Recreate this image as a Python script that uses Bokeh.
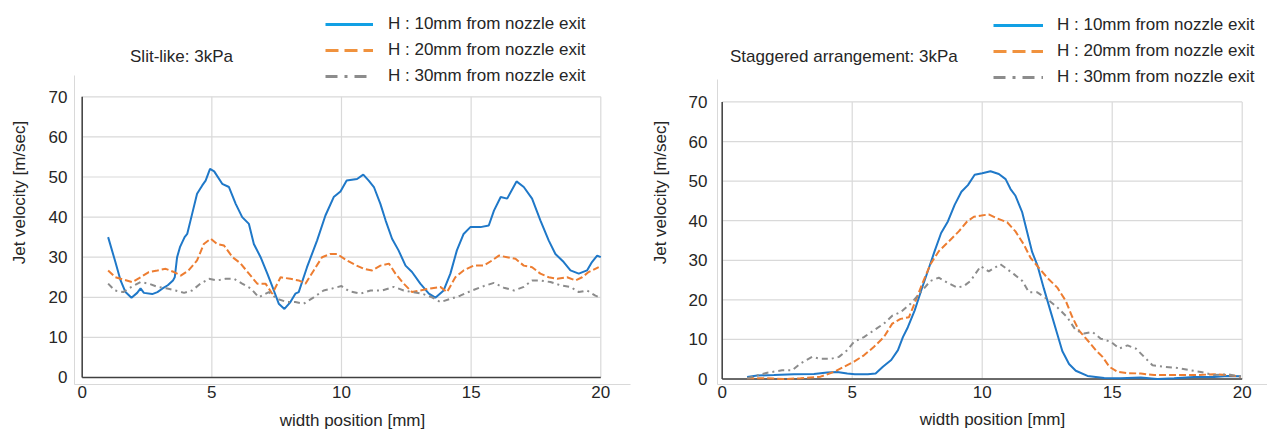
from bokeh.plotting import figure
from bokeh.models import Range1d, FixedTicker, Legend, LegendItem, Label
from bokeh.layouts import row
from bokeh.embed import file_html
from bokeh.resources import INLINE

# ---------------- data ----------------
x_ticks = [0, 5, 10, 15, 20]
y_ticks = [0, 10, 20, 30, 40, 50, 60, 70]
series_labels = ["H : 10mm from nozzle exit", "H : 20mm from nozzle exit", "H : 30mm from nozzle exit"]
titles = ["Slit-like: 3kPa", "Staggered arrangement: 3kPa"]
x_title = "width position [mm]"
y_title = "Jet velocity [m/sec]"

# Slit-like, H = 10 mm
slit_h10_x = [1.0, 1.28, 1.48, 1.67, 1.9, 2.12, 2.25, 2.38, 2.7, 2.9, 3.1, 3.3, 3.5, 3.57, 3.66, 3.77,
              3.95, 4.05, 4.24, 4.43, 4.63, 4.76, 4.93, 5.09, 5.4, 5.66, 5.92, 6.17, 6.43, 6.62, 6.88,
              7.14, 7.39, 7.58, 7.8, 8.03, 8.22, 8.35, 8.67, 9.06, 9.38, 9.7, 9.96, 10.2, 10.6, 10.84,
              11.05, 11.25, 11.5, 11.7, 11.95, 12.2, 12.47, 12.72, 13.04, 13.37, 13.62, 13.94, 14.2,
              14.45, 14.71, 14.97, 15.36, 15.68, 15.88, 16.14, 16.39, 16.75, 17.03, 17.35, 17.67,
              17.99, 18.25, 18.57, 18.83, 19.15, 19.47, 19.66, 19.86, 20.0]
slit_h10_v = [35.0, 28.8, 24.2, 21.3, 19.9, 21.1, 22.2, 21.1, 20.8, 21.3, 22.2, 23.0, 24.2, 25.0, 30.0, 32.5,
              35.0, 35.8, 40.8, 45.8, 47.9, 49.1, 52.0, 51.4, 48.3, 47.5, 43.3, 40.0, 38.3, 33.3, 30.0,
              25.9, 21.7, 18.4, 17.1, 18.8, 20.9, 21.3, 27.5, 34.2, 40.4, 45.0, 46.4, 49.1, 49.5, 50.6,
              49.1, 47.5, 43.3, 39.2, 34.6, 31.7, 27.9, 26.3, 23.4, 20.9, 19.9, 21.7, 25.9,
              31.7, 35.8, 37.5, 37.5, 37.9, 41.6, 45.0, 44.6, 48.9, 47.5, 44.6, 39.2,
              34.2, 30.8, 28.8, 26.7, 25.9, 26.7, 28.8, 30.4, 30.0]

# Slit-like, H = 20 mm
slit_h20_x = [1.0, 1.28, 1.6, 1.93, 2.25, 2.57, 2.9, 3.22, 3.54, 3.8, 4.1, 4.43, 4.69, 4.96, 5.2, 5.47,
              5.8, 6.1, 6.43, 6.75, 7.07, 7.33, 7.65, 8.03, 8.35, 8.61, 8.93, 9.25, 9.57, 9.83, 10.2,
              10.55, 10.86, 11.18, 11.5, 11.83, 12.08, 12.4, 12.72, 13.04, 13.43, 13.81, 14.07, 14.39,
              14.71, 15.1, 15.49, 15.81, 16.07, 16.39, 16.71, 17.03, 17.35, 17.67, 17.99, 18.32, 18.7,
              19.02, 19.28, 19.53, 19.92]
slit_h20_v = [26.7, 25.0, 24.4, 23.8, 25.0, 26.3, 26.7, 27.1, 26.3, 25.4, 26.7, 29.2, 33.3, 34.6, 33.3, 32.9,
              30.0, 28.5, 25.9, 23.4, 23.4, 20.9, 25.0, 24.6, 24.2, 23.4, 26.7, 30.0, 30.8, 30.8, 29.2,
              28.0, 27.1, 26.7, 27.9, 28.4, 25.9, 23.4, 21.3, 21.7, 22.2, 22.6, 21.3, 25.0,
              26.7, 27.9, 27.9, 29.2, 30.4, 30.0, 29.6, 27.9, 27.5, 25.9, 25.0, 24.6, 25.0,
              24.2, 25.0, 26.3, 27.5]

# Slit-like, H = 30 mm
slit_h30_x = [1.0, 1.26, 1.58, 1.9, 2.25, 2.57, 2.9, 3.28, 3.6, 3.93, 4.24, 4.56, 4.89, 5.2, 5.53, 5.85,
              6.17, 6.5, 6.81, 7.2, 7.52, 7.91, 8.22, 8.54, 8.93, 9.31, 9.64, 10.0, 10.3, 10.73, 11.12,
              11.57, 12.02, 12.4, 12.72, 13.11, 13.49, 13.81, 14.2, 14.58, 15.03, 15.49, 15.88, 16.26,
              16.65, 17.03, 17.35, 17.67, 18.06, 18.44, 18.83, 19.15, 19.47, 19.79, 19.95]
slit_h30_v = [23.4, 21.7, 21.3, 22.6, 23.8, 23.4, 22.6, 22.2, 21.7, 21.1, 21.7, 23.4, 24.6, 24.2, 24.6, 24.6,
              23.4, 22.2, 20.0, 21.3, 19.6, 18.8, 18.8, 18.4, 20.0, 21.7, 22.2, 22.8, 21.5, 20.9, 21.7,
              21.7, 22.6, 21.7, 21.3, 20.9, 20.0, 18.8, 19.6, 20.4, 21.7, 22.8, 23.6, 22.4,
              21.7, 22.6, 24.2, 24.2, 23.8, 23.0, 22.6, 21.3, 21.7, 20.4, 20.0]

# Staggered, H = 10 mm
stag_h10_x = [0.96, 1.35, 1.99, 2.76, 3.53, 4.04, 4.42, 4.81, 5.1, 5.6, 5.9, 6.18, 6.5, 6.76, 6.95, 7.14,
              7.4, 7.65, 7.91, 8.17, 8.42, 8.68, 8.94, 9.2, 9.45, 9.71, 10.0, 10.32, 10.64, 10.9, 11.09,
              11.28, 11.54, 11.73, 11.92, 12.12, 12.37, 12.63, 12.89, 13.08, 13.34, 13.6, 14.05, 14.69,
              15.33, 16.1, 16.74, 17.38, 18.15, 18.92, 19.44, 19.95]
stag_h10_v = [0.5, 0.9, 1.0, 1.2, 1.25, 1.65, 1.8, 1.4, 1.2, 1.2, 1.4, 3.1, 4.8, 7.3, 10.6, 13.1,
              17.3, 22.3, 27.3, 32.3, 36.9, 39.8, 44.0, 47.3, 49.0, 51.6, 52.0, 52.5, 51.8, 50.5, 48.0,
              46.3, 42.1, 37.1, 32.1, 28.8, 22.9, 17.1, 11.3, 7.1, 3.8, 2.1, 0.8, 0.25,
              0.2, 0.4, 0.0, 0.2, 0.5, 0.5, 0.8, 0.7]

# Staggered, H = 20 mm
stag_h20_x = [0.96, 1.73, 2.37, 3.01, 3.78, 4.3, 4.68, 5.07, 5.45, 5.83, 6.22, 6.54, 6.86, 7.18, 7.44,
              7.69, 8.01, 8.33, 8.72, 9.1, 9.42, 9.68, 9.97, 10.25, 10.57, 10.96, 11.28, 11.6, 11.86,
              12.18, 12.5, 12.89, 13.21, 13.47, 13.72, 14.05, 14.37, 14.63, 14.89, 15.21, 15.59, 16.1,
              16.61, 17.38, 18.15, 18.92, 19.44, 19.95]
stag_h20_v = [0.2, 0.2, 0.0, 0.2, 0.6, 1.8, 3.1, 4.4, 6.0, 8.1, 10.6, 14.0, 15.2, 15.6, 19.8,
              24.0, 29.0, 32.3, 34.8, 37.3, 39.8, 41.0, 41.3, 41.6, 40.6, 39.6, 37.3, 34.0, 30.6,
              28.1, 25.6, 23.1, 19.8, 15.6, 12.3, 9.8, 7.3, 5.6, 3.1, 1.8, 1.5, 1.4,
              1.0, 1.0, 1.0, 1.2, 1.0, 0.6]

# Staggered, H = 30 mm
stag_h30_x = [0.96, 1.73, 2.3, 2.69, 3.0, 3.46, 3.78, 4.17, 4.49, 4.81, 5.07, 5.45, 5.83, 6.22, 6.54,
              6.86, 7.24, 7.63, 8.01, 8.33, 8.65, 9.04, 9.3, 9.55, 9.94, 10.25, 10.7, 11.22, 11.54,
              11.8, 12.12, 12.5, 12.89, 13.27, 13.6, 13.92, 14.24, 14.56, 14.95, 15.27, 15.59, 15.91,
              16.23, 16.55, 17.0, 17.51, 18.02, 18.41, 18.92, 19.44, 19.95]
stag_h30_v = [0.2, 1.6, 2.2, 2.2, 3.9, 5.6, 5.1, 5.1, 5.6, 7.3, 9.4, 10.6, 12.3, 14.0, 16.0,
              16.9, 19.0, 21.9, 24.8, 25.6, 24.4, 23.1, 23.5, 24.8, 28.5, 27.2, 29.0, 26.5, 24.8,
              21.9, 21.9, 20.2, 18.1, 15.6, 12.3, 11.5, 11.9, 10.2, 9.4, 7.7, 8.5, 7.7,
              5.6, 3.5, 3.1, 2.8, 2.2, 1.8, 1.0, 1.2, 0.6]

# ---------------- styling ----------------
FONT = "Liberation Sans"
TXT = "#262626"
GRID = "#d9d9d9"
AXIS_DARK = "#404040"
colors = ["#1f78c8", "#ed7d31", "#8c8c8c"]
legend_colors = ["#12a0e4", "#f0923e", "#8c8c8c"]
dashes = ["solid", "7 3", "6 4 2 4"]
legend_dashes = ["solid", "13 6", "12 7 3 7"]
NAN = float("nan")


def make_panel(width, xr, yr, y_axis_top, borders, series, title, title_pos,
               legend_loc, glyph_w, standoff, ytick_standoff, ylabel_standoff, xlabel_standoff):
    p = figure(width=width, height=432, output_backend="svg", toolbar_location=None,
               x_range=Range1d(*xr), y_range=Range1d(*yr),
               min_border_left=borders[0], min_border_right=borders[1],
               min_border_top=borders[2], min_border_bottom=borders[3])
    p.outline_line_color = None
    p.background_fill_color = "white"
    p.border_fill_color = "white"
    p.xgrid.visible = False
    p.ygrid.visible = False

    for ax in (p.xaxis[0], p.yaxis[0]):
        ax.axis_line_color = GRID
        ax.axis_line_width = 1
        ax.major_tick_line_color = None
        ax.minor_tick_line_color = None
        ax.major_tick_out = 0
        ax.major_tick_in = 0
        ax.major_label_text_font = FONT
        ax.major_label_text_font_size = "17px"
        ax.major_label_text_color = TXT
        ax.axis_label_text_font = FONT
        ax.axis_label_text_font_size = "17px"
        ax.axis_label_text_font_style = "normal"
        ax.axis_label_text_color = TXT
    p.xaxis.ticker = FixedTicker(ticks=x_ticks)
    p.yaxis.ticker = FixedTicker(ticks=y_ticks)
    p.yaxis.bounds = (yr[0], y_axis_top)
    p.xaxis.major_label_standoff = 1
    p.yaxis.major_label_standoff = ytick_standoff
    p.yaxis.axis_label = y_title
    p.yaxis.axis_label_standoff = ylabel_standoff
    p.xaxis.axis_label = x_title
    p.xaxis.axis_label_standoff = xlabel_standoff

    # gridlines limited to the data area
    p.segment(x0=x_ticks, y0=[y_ticks[0]] * len(x_ticks), x1=x_ticks, y1=[y_ticks[-1]] * len(x_ticks),
              line_color=GRID, line_width=1.2)
    p.segment(x0=[x_ticks[0]] * len(y_ticks), y0=y_ticks, x1=[x_ticks[-1]] * len(y_ticks), y1=y_ticks,
              line_color=GRID, line_width=1.2)
    # dark zero lines
    p.segment(x0=[x_ticks[0], x_ticks[0]], y0=[y_ticks[0], y_ticks[0]],
              x1=[x_ticks[0], x_ticks[-1]], y1=[y_ticks[-1], y_ticks[0]],
              line_color=AXIS_DARK, line_width=1.5)

    items = []
    for i, (xs, vs) in enumerate(series):
        p.line(xs, vs, line_color=colors[i], line_width=2, line_dash=dashes[i])
        # legend-only proxy (draws nothing in the plot) so the key line can be thicker
        proxy = p.line([NAN], [NAN], line_color=legend_colors[i], line_width=3,
                       line_dash=legend_dashes[i])
        items.append(LegendItem(label=series_labels[i], renderers=[proxy]))

    legend = Legend(items=items, location=legend_loc, orientation="vertical",
                    glyph_width=glyph_w, glyph_height=20, label_height=20, spacing=6,
                    label_standoff=standoff, padding=0, margin=0,
                    border_line_alpha=0, background_fill_alpha=0,
                    label_text_font=FONT, label_text_font_size="17px", label_text_color=TXT)
    p.add_layout(legend)

    p.add_layout(Label(x=title_pos[0], y=title_pos[1], text=title, text_font=FONT,
                       text_font_size="17px", text_color=TXT, text_align="center",
                       text_baseline="middle"))
    return p


left = make_panel(640, (-0.297, 21.146), (-1.746, 94.01), 75.31, (74, 10, 0, 48),
                  [(slit_h10_x, slit_h10_v), (slit_h20_x, slit_h20_v), (slit_h30_x, slit_h30_v)],
                  titles[0], (3.83, 80.0), (251, 298), 48, 15, 7, 17, 10)
right = make_panel(627, (-0.181, 20.973), (-1.375, 95.625), 75.625, (77, 0, 0, 44),
                   [(stag_h10_x, stag_h10_v), (stag_h20_x, stag_h20_v), (stag_h30_x, stag_h30_v)],
                   titles[1], (4.68, 81.4), (276, 297), 50, 14, 10, 16, 9)

layout = row(left, right)
open("out.html", "w").write(file_html(layout, INLINE))
